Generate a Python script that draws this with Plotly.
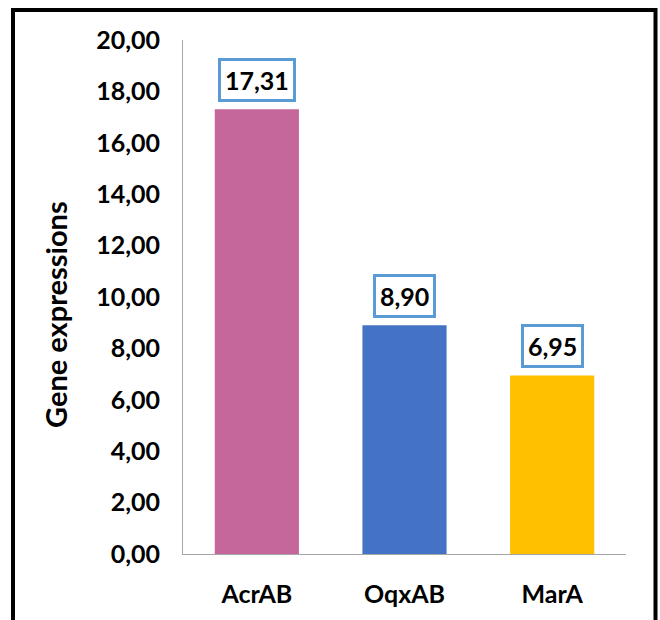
import plotly.graph_objects as go

# Relative expression of efflux-pump genes
genes = ["AcrAB", "OqxAB", "MarA"]
expression = [17.31, 8.90, 6.95]
bar_colors = ["#C5679B", "#4472C4", "#FFC000"]
y_ticks = [0, 2, 4, 6, 8, 10, 12, 14, 16, 18, 20]

W, H = 660, 620
L, R, T, B = 183, 34, 40, 64
plot_w = W - L - R
plot_h = H - T - B


def px_to_paper_x(px):
    return (px - L) / plot_w


def px_to_paper_y(py):
    return (H - B - py) / plot_h


def fmt(v):
    return f"{v:.2f}".replace(".", ",")


fig = go.Figure(
    go.Bar(
        x=genes,
        y=expression,
        marker=dict(color=bar_colors, line=dict(width=0)),
        showlegend=False,
        hoverinfo="skip",
    )
)

font_family = "Lato"

# Boxed value labels above each bar
for g, v in zip(genes, expression):
    fig.add_annotation(
        x=g, y=v, xref="x", yref="y",
        text=f"<b>{fmt(v)}</b>",
        showarrow=False,
        yanchor="bottom",
        yshift=7,
        font=dict(family=font_family, size=25, color="black"),
        bgcolor="white",
        bordercolor="#5B9BD5",
        borderwidth=3,
        borderpad=4,
    )

# Y-axis title
fig.add_annotation(
    x=px_to_paper_x(56), y=px_to_paper_y(316), xref="paper", yref="paper",
    xanchor="center", yanchor="middle",
    text="<b>Gene expressions</b>",
    textangle=-90,
    showarrow=False,
    font=dict(family=font_family, size=29, color="black"),
)

# Outer frame around the chart
fig.add_shape(
    type="rect", xref="paper", yref="paper",
    x0=px_to_paper_x(13), x1=px_to_paper_x(655.5),
    y0=px_to_paper_y(640), y1=px_to_paper_y(10),
    line=dict(color="black", width=4),
    fillcolor="rgba(0,0,0,0)",
    layer="above",
)

fig.update_layout(
    width=W, height=H,
    margin=dict(l=L, r=R, t=T, b=B, pad=0),
    paper_bgcolor="white",
    plot_bgcolor="white",
    separators=",.",
    bargap=0.43,
    font=dict(family=font_family, color="black"),
)

fig.update_xaxes(
    showline=True, linecolor="#A6A6A6", linewidth=1,
    showgrid=False, ticks="",
    tickfont=dict(family=font_family, size=25, color="black"),
    ticklabelstandoff=18,
    tickvals=genes,
    ticktext=[f"<b>{g}</b>" for g in genes],
)

fig.update_yaxes(
    range=[0, 20],
    showline=True, linecolor="#A6A6A6", linewidth=1,
    showgrid=False, zeroline=False, ticks="",
    tickvals=y_ticks,
    ticktext=[f"<b>{fmt(t)}</b>" for t in y_ticks],
    tickfont=dict(family=font_family, size=25, color="black"),
    ticklabelstandoff=17,
)

fig.write_html("out.html")
